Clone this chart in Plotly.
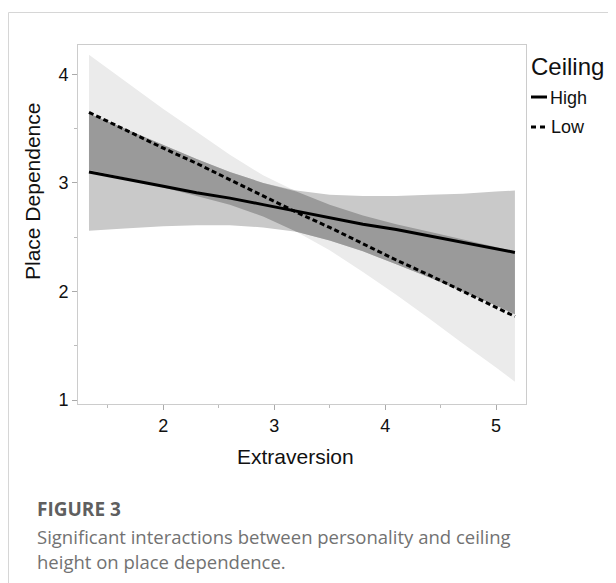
import numpy as np
import plotly.graph_objects as go

# ---- data ----
extraversion = [1.33, 1.65, 2.0, 2.3, 2.6, 2.9, 3.2, 3.5, 3.8, 4.1, 4.4, 4.7, 5.0, 5.17]

high_fit   = [3.10, 3.04, 2.97, 2.91, 2.86, 2.80, 2.74, 2.68, 2.62, 2.57, 2.51, 2.45, 2.39, 2.36]
high_lower = [2.56, 2.58, 2.60, 2.61, 2.61, 2.59, 2.55, 2.47, 2.37, 2.25, 2.13, 2.00, 1.87, 1.79]
high_upper = [3.64, 3.50, 3.35, 3.22, 3.10, 3.00, 2.93, 2.89, 2.88, 2.88, 2.89, 2.90, 2.92, 2.93]

low_fit    = [3.65, 3.49, 3.32, 3.18, 3.03, 2.88, 2.73, 2.59, 2.44, 2.29, 2.15, 2.00, 1.85, 1.77]
low_lower  = [3.12, 3.05, 2.96, 2.88, 2.80, 2.69, 2.55, 2.38, 2.18, 1.97, 1.75, 1.52, 1.30, 1.17]
low_upper  = [4.18, 3.94, 3.68, 3.47, 3.26, 3.07, 2.92, 2.80, 2.70, 2.62, 2.55, 2.48, 2.41, 2.37]

x_ticks = [2, 3, 4, 5]
y_ticks = [1, 2, 3, 4]
legend_title = "Ceiling"
group_names = ["High", "Low"]

# ---- styling ----
LIGHT = "#ebebeb"
MED = "#c9c9c9"
DARK = "#9a9a9a"
FONT = "Arial, Liberation Sans, sans-serif"
DASH = "5px,3px"

x = np.array(extraversion)
ov_lo = np.maximum(high_lower, low_lower)
ov_hi = np.minimum(high_upper, low_upper)

def band(xs, lo, hi, color):
    xs = list(xs)
    return go.Scatter(x=xs + xs[::-1], y=list(hi) + list(lo)[::-1],
                      fill="toself", fillcolor=color, mode="lines",
                      line=dict(width=0), hoverinfo="skip", showlegend=False)

fig = go.Figure()
fig.add_trace(band(x, low_lower, low_upper, LIGHT))
fig.add_trace(band(x, high_lower, high_upper, MED))
fig.add_trace(band(x, ov_lo, ov_hi, DARK))
fig.add_trace(go.Scatter(x=extraversion, y=high_fit, mode="lines", name=group_names[0],
                         line=dict(color="black", width=3), showlegend=False))
fig.add_trace(go.Scatter(x=extraversion, y=low_fit, mode="lines", name=group_names[1],
                         line=dict(color="black", width=3, dash=DASH), showlegend=False))

# page has an 8px body margin; figure is placed at (8, 8)
OFF = 8
W, H = 616 - OFF, 583 - OFF
L, R, T, B = 78, 526, 45, 404          # plot area in page pixels
def px(xp):
    return (xp - L) / (R - L)
def py(yp):
    return (B - yp) / (B - T)

axis_common = dict(showgrid=False, zeroline=False, showline=True, linecolor="#cccccc",
                   linewidth=1, mirror=True, ticks="outside", ticklen=5, tickwidth=1,
                   tickcolor="#aaaaaa", tickfont=dict(family=FONT, size=18, color="#111"))

fig.update_layout(
    width=W, height=H,
    margin=dict(l=L - OFF, r=616 - R, t=T - OFF, b=583 - B),
    paper_bgcolor="white", plot_bgcolor="white",
    font=dict(family=FONT, color="#111"),
    xaxis=dict(range=[1.231, 5.27], tickvals=x_ticks,
               minor=dict(tickvals=[1.5, 2.5, 3.5, 4.5], ticks="outside", ticklen=3,
                          tickcolor="#bbbbbb"),
               **axis_common),
    yaxis=dict(range=[0.964, 4.27], tickvals=y_ticks,
               minor=dict(tickvals=[1.5, 2.5, 3.5], ticks="outside", ticklen=3,
                          tickcolor="#bbbbbb"),
               **axis_common),
    showlegend=False,
)

ann = []
ann.append(dict(text="Extraversion", x=px(295), y=py(456), xref="paper", yref="paper",
                showarrow=False, font=dict(family=FONT, size=21, color="#111"),
                xanchor="center", yanchor="middle"))
ann.append(dict(text="Place Dependence", x=px(32), y=py(192), xref="paper", yref="paper",
                showarrow=False, textangle=-90, font=dict(family=FONT, size=21, color="#111"),
                xanchor="center", yanchor="middle"))
# legend
ann.append(dict(text=legend_title, x=px(529), y=py(66), xref="paper", yref="paper",
                showarrow=False, font=dict(family=FONT, size=24, color="#111"),
                xanchor="left", yanchor="middle"))
ann.append(dict(text=group_names[0], x=px(548), y=py(98), xref="paper", yref="paper",
                showarrow=False, font=dict(family=FONT, size=18, color="#111"),
                xanchor="left", yanchor="middle"))
ann.append(dict(text=group_names[1], x=px(549), y=py(127), xref="paper", yref="paper",
                showarrow=False, font=dict(family=FONT, size=18, color="#111"),
                xanchor="left", yanchor="middle"))
# caption
CAP = "Open Sans, Noto Sans, sans-serif"
ann.append(dict(text="<b>FIGURE 3</b>", x=px(35), y=py(509), xref="paper", yref="paper",
                showarrow=False, font=dict(family=CAP, size=19, color="#5f5f5f"),
                xanchor="left", yanchor="middle"))
ann.append(dict(text="Significant interactions between personality and ceiling", x=px(35), y=py(536),
                xref="paper", yref="paper", showarrow=False,
                font=dict(family=CAP, size=18.5, color="#727272"), xanchor="left", yanchor="middle"))
ann.append(dict(text="height on place dependence.", x=px(35), y=py(561),
                xref="paper", yref="paper", showarrow=False,
                font=dict(family=CAP, size=18.5, color="#727272"), xanchor="left", yanchor="middle"))
fig.update_layout(annotations=ann)

shapes = []
# card border
shapes.append(dict(type="line", xref="paper", yref="paper", x0=px(8.5), x1=px(616), y0=py(12.5), y1=py(12.5),
                   line=dict(color="#d6d6d6", width=1)))
shapes.append(dict(type="line", xref="paper", yref="paper", x0=px(8.5), x1=px(8.5), y0=py(12.5), y1=py(583),
                   line=dict(color="#d6d6d6", width=1)))
# legend samples
shapes.append(dict(type="line", xref="paper", yref="paper", x0=px(531), x1=px(547), y0=py(97), y1=py(97),
                   line=dict(color="black", width=3)))
shapes.append(dict(type="line", xref="paper", yref="paper", x0=px(531), x1=px(547), y0=py(127), y1=py(127),
                   line=dict(color="black", width=3, dash="5px,4px")))
fig.update_layout(shapes=shapes)

fig.write_html("out.html")
